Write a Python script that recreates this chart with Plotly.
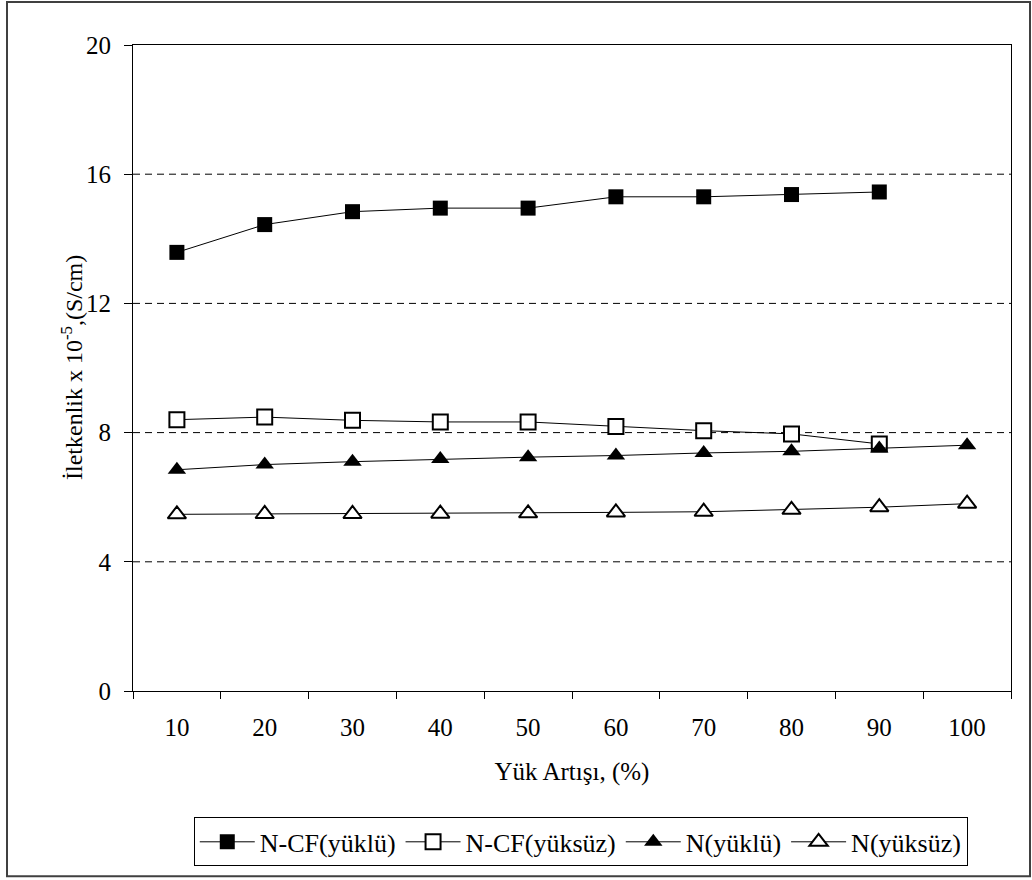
import plotly.graph_objects as go

categories = ["10", "20", "30", "40", "50", "60", "70", "80", "90", "100"]
ncf_yuklu = [13.58, 14.44, 14.84, 14.95, 14.95, 15.30, 15.30, 15.37, 15.45]
ncf_yuksuz = [8.40, 8.48, 8.38, 8.33, 8.33, 8.19, 8.06, 7.96, 7.65]
n_yuklu = [6.85, 7.01, 7.10, 7.18, 7.24, 7.29, 7.37, 7.42, 7.51, 7.61]
n_yuksuz = [5.47, 5.48, 5.48, 5.49, 5.50, 5.53, 5.55, 5.61, 5.69, 5.80]
y_ticks = [0, 4, 8, 12, 16, 20]

FONT = "Times New Roman"
FS = 25

W, H = 1032, 880
L, R, T, B = 133, 21, 45, 188.5
pw = W - L - R
ph = H - T - B

fig = go.Figure()

def add(name, ys, symbol, filled):
    fig.add_trace(go.Scatter(
        x=categories[:len(ys)], y=ys, name=name, mode="lines+markers",
        line=dict(color="black", width=1),
        marker=dict(symbol=symbol, size=15 if "square" in symbol else 16,
                    color="black" if filled else "white",
                    line=dict(color="black", width=0 if filled else 2)),
    ))

add("N-CF(yüklü)", ncf_yuklu, "square", True)
add("N-CF(yüksüz)", ncf_yuksuz, "square", False)
add("N(yüklü)", n_yuklu, "triangle-up", True)
add("N(yüksüz)", n_yuksuz, "triangle-up", False)

# dashed gridlines
for v in y_ticks[1:-1]:
    fig.add_shape(type="line", xref="paper", yref="y", x0=0, x1=1, y0=v, y1=v,
                  line=dict(color="black", width=1, dash="7px,5px"), layer="below")

# outer frame
fig.add_shape(type="rect", xref="paper", yref="paper",
              x0=(7 - L) / pw, x1=(1030 - L) / pw,
              y0=(H - B - 877) / ph, y1=(H - B - 2) / ph,
              line=dict(color="#404040", width=2))

# y-axis title as annotation for precise placement
fig.add_annotation(text="İletkenlik x 10<sup>-5</sup>,(S/cm)",
                   xref="paper", yref="paper", x=(72 - L) / pw, y=0.5,
                   xanchor="center", yanchor="middle", textangle=-90,
                   showarrow=False, font=dict(family=FONT, size=24, color="black"))

fig.update_layout(
    width=W, height=H,
    margin=dict(l=L, r=R, t=T, b=B),
    paper_bgcolor="white", plot_bgcolor="white",
    font=dict(family=FONT, size=FS, color="black"),
    showlegend=True,
    legend=dict(orientation="h", x=0.51, xanchor="center",
                y=(H - B - 818) / ph, yanchor="top",
                bordercolor="black", borderwidth=1,
                font=dict(family=FONT, size=26, color="black"),
                itemwidth=55, tracegroupgap=0, bgcolor="white"),
    xaxis=dict(
        type="category", categoryorder="array", categoryarray=categories,
        range=[-0.5, 9.5], tickson="boundaries",
        ticks="outside", ticklen=7, tickcolor="black", tickwidth=1,
        ticklabelstandoff=14,
        showline=True, linecolor="black", linewidth=1, mirror=True,
        showgrid=False, zeroline=False,
        tickfont=dict(family=FONT, size=FS, color="black"),
        title=dict(text="Yük Artışı, (%)", font=dict(family=FONT, size=FS, color="black"), standoff=22),
    ),
    yaxis=dict(
        range=[0, 20], tickvals=y_ticks, ticktext=[str(v) for v in y_ticks],
        ticks="outside", ticklen=8, tickcolor="black", tickwidth=1,
        ticklabelstandoff=8,
        showline=True, linecolor="black", linewidth=1, mirror=True,
        showgrid=False, zeroline=False,
        tickfont=dict(family=FONT, size=FS, color="black"),
    ),
)

fig.write_html("out.html", config={"displayModeBar": False},
               post_script="document.body.style.margin='0';document.body.style.overflow='hidden';")
